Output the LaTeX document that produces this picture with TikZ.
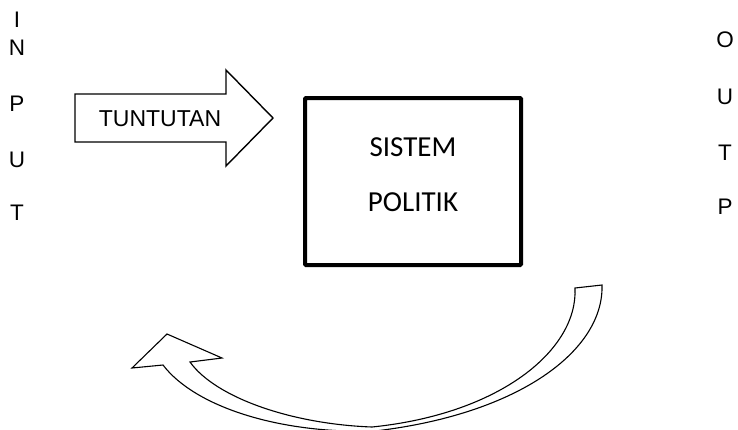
\documentclass[tikz,border=0pt]{standalone}
\usepackage{fontspec}
\setmainfont{Liberation Sans}
\newfontfamily\boxfont{Carlito}
\begin{document}
\begin{tikzpicture}[x=1pt,y=-1pt,
  letter/.style={font=\fontsize{22.5}{24}\selectfont, inner sep=0pt, anchor=center},
  boxtext/.style={font=\boxfont\fontsize{29}{31}\selectfont, inner sep=0pt, anchor=center},
  shapeline/.style={draw=black, line width=1.4pt, line join=miter, fill=white},
  sysbox/.style={draw=black, line width=4pt, rounded corners=1pt, minimum width=216pt, minimum height=167pt, inner sep=0pt}
]
\useasboundingbox (0,0) rectangle (738,429);
% INPUT letters
\node[letter] (i1) at (17,20) {I};
\node[letter] (i2) at (17,48) {N};
\node[letter] (i3) at (17,104) {P};
\node[letter] (i4) at (17,160) {U};
\node[letter] (i5) at (17,213) {T};
% OUTP letters
\node[letter] (o1) at (725,40) {O};
\node[letter] (o2) at (725,97) {U};
\node[letter] (o3) at (725,153) {T};
\node[letter] (o4) at (725,207) {P};
% input arrow
\draw[shapeline] (75,94) -- (226,94) -- (226,70) -- (273,118) -- (226,166) -- (226,142) -- (75,142) -- cycle;
\node[letter, font=\fontsize{23}{25}\selectfont] (tun) at (160,119) {TUNTUTAN};
% system box
\node[sysbox] (sys) at (413,181.5) {};
\node[boxtext] (s1) at (413,147) {SISTEM};
\node[boxtext] (s2) at (413,202) {POLITIK};
% curved feedback arrow
\begin{scope}
\clip (0,0) rectangle (738,429);
\coordinate (tl) at (575,288);
\coordinate (tr) at (602,285);
\coordinate (bo) at (375,431);
\coordinate (bi) at (372,427);
\coordinate (hl) at (163,365);
\coordinate (hr) at (190,362);
\coordinate (bl) at (132,368);
\coordinate (tip) at (167,334);
\coordinate (br) at (222,358);
\draw[shapeline, line width=1.1pt]
  (tl) -- (tr) .. controls (604,350) and (520,414) .. (bo)
  .. controls (280,434) and (195,407) .. (hl)
  -- (bl) -- (tip) -- (br) -- (hr)
  .. controls (215,397) and (290,424) .. (bi)
  .. controls (500,414) and (578,350) .. (tl) -- cycle;
\end{scope}
\end{tikzpicture}
\end{document}
